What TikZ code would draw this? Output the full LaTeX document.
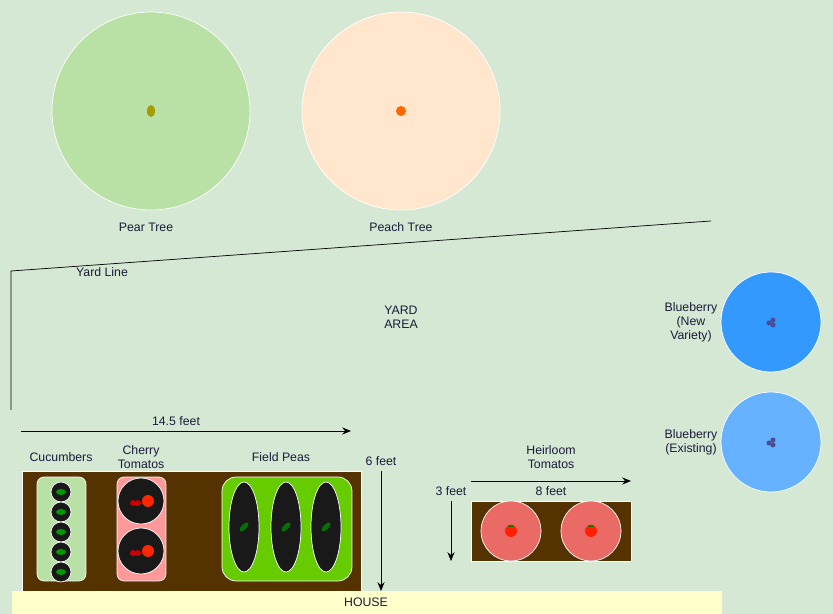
\documentclass[tikz,border=0pt]{standalone}
\usepackage{fontspec}
\setmainfont{Liberation Sans}
\usetikzlibrary{positioning, fit, shapes.geometric, arrows.meta}
\definecolor{yard}{HTML}{D5E8D4}
\definecolor{pear}{HTML}{B9E0A5}
\definecolor{peach}{HTML}{FFE6CC}
\definecolor{soil}{HTML}{553300}
\definecolor{blueA}{HTML}{3399FF}
\definecolor{blueB}{HTML}{66B2FF}
\definecolor{cherry}{HTML}{FF9999}
\definecolor{peas}{HTML}{66CC00}
\definecolor{heir}{HTML}{EA6B66}
\definecolor{house}{HTML}{FFFFCC}
\definecolor{ink}{HTML}{1A1A3A}
\begin{document}
\begin{tikzpicture}[x=0.02cm, y=-0.02cm,
        every node/.style={font=\fontsize{7}{8}\selectfont, text=ink},
        tree/.style={circle, draw=white, minimum size=3.96cm, inner sep=0pt},
        bush/.style={circle, draw=white, minimum size=2cm, inner sep=0pt},
        bed/.style={draw=white, fill=soil, rectangle, inner sep=0pt},
        row/.style={draw=white, rounded corners=4pt, inner sep=0pt},
        plant/.style={circle, fill=black!90, draw=white, inner sep=0pt},
        pod/.style={ellipse, fill=black!90, draw=white, inner sep=0pt, minimum width=0.6cm, minimum height=1.8cm},
        dim/.style={-{Stealth[length=5pt, width=4pt]}, thin},
        lbl/.style={align=center}
    ]

    \fill[yard] (0,0) rectangle (833,614);
    \useasboundingbox (0,0) rectangle (833,614);

    % trees
    \node[tree, fill=pear] (pear) at (151,111) {};
    \node[tree, fill=peach] (peach) at (401,111) {};
    \fill[olive!80!yellow] (pear.center) ellipse (4 and 6);
    \fill[orange!80!red] (peach.center) circle (5);
    \node (pearlbl) at (146,227) {Pear Tree};
    \node (peachlbl) at (401,227) {Peach Tree};

    % yard line
    \coordinate (y1) at (711,221);
    \coordinate (y2) at (11,271);
    \coordinate (y3) at (11,410);
    \draw (y1) -- (y2) -- (y3);
    \node (yardline) at (102,272) {Yard Line};
    \node[lbl] (yardarea) at (401,317) {YARD\\AREA};

    % blueberries
    \node[bush, fill=blueA] (bnew) at (771,322) {};
    \node[bush, fill=blueB] (bold) at (771,442) {};
    \foreach \b in {bnew, bold} {
        \fill[blue!40!black!70] (\b.center) ++(-2,1) circle (2.5) ++(4,-3) circle (2.5) ++(0,5) circle (2.5);
    }
    \node[lbl] (bnewlbl) at (691,322) {Blueberry\\(New\\Variety)};
    \node[lbl] (boldlbl) at (691,442) {Blueberry\\(Existing)};

    % main bed
    \node[bed, minimum width=6.78cm, minimum height=2.4cm] (mainbed) at (191.5,531) {};
    \node[row, fill=pear, minimum width=0.98cm, minimum height=2.08cm] (cuc) at (61.5,529) {};
    \foreach \yy in {492,512,532,552,572} {
        \node[plant, minimum size=0.4cm] (c\yy) at (61,\yy) {};
        \fill[green!60!black] (c\yy.center) ellipse (5 and 3);
    }
    \node[row, fill=cherry, minimum width=0.98cm, minimum height=2.08cm] (cher) at (141.5,529) {};
    \foreach \yy in {501,551} {
        \node[plant, minimum size=0.92cm] (t\yy) at (141,\yy) {};
        \fill[red!80!black] (t\yy.center) ++(-8,2) circle (3) ++(5,0) circle (3);
        \fill[red!70!orange] (t\yy.center) ++(7,0) circle (6);
    }
    \node[row, fill=peas, rounded corners=8pt, minimum width=2.6cm, minimum height=2.08cm] (peasrow) at (287,529) {};
    \foreach \xx in {244,286,326} {
        \node[pod] (p\xx) at (\xx,527) {};
        \fill[green!45!black, rotate around={45:(p\xx.center)}] (p\xx.center) ellipse (6 and 2.5);
    }
    \node (cuclbl) at (61,457) {Cucumbers};
    \node[lbl] (cherlbl) at (141,457) {Cherry\\Tomatos};
    \node (peaslbl) at (281,457) {Field Peas};

    % main bed dimensions
    \coordinate (w1) at (21,431);
    \coordinate (w2) at (351,431);
    \draw[dim] (w1) -- (w2);
    \node (wlbl) at (176,421) {14.5 feet};
    \coordinate (h1) at (381,471);
    \coordinate (h2) at (381,591);
    \draw[dim] (h1) -- (h2);
    \node (hlbl) at (381,461) {6 feet};

    % heirloom bed
    \node[bed, minimum width=3.2cm, minimum height=1.2cm] (heirbed) at (551,531) {};
    \foreach \xx in {511,591} {
        \node[circle, fill=heir, draw=white, minimum size=1.2cm, inner sep=0pt] (h\xx) at (\xx,531) {};
        \fill[red!75!orange] (h\xx.center) circle (6);
        \fill[green!50!black] (h\xx.center) ++(0,-5) ellipse (3 and 1.2);
    }
    \node[lbl] (heirlbl) at (551,457) {Heirloom\\Tomatos};
    \coordinate (e1) at (471,481);
    \coordinate (e2) at (631,481);
    \draw[dim] (e1) -- (e2);
    \node (elbl) at (551,491) {8 feet};
    \coordinate (f1) at (451,501);
    \coordinate (f2) at (451,561);
    \draw[dim] (f1) -- (f2);
    \node (flbl) at (451,491) {3 feet};

    % house
    \fill[house] (12,591) rectangle (722,614);
    \node (houselbl) at (366,602) {HOUSE};

    \end{tikzpicture}
\end{document}
